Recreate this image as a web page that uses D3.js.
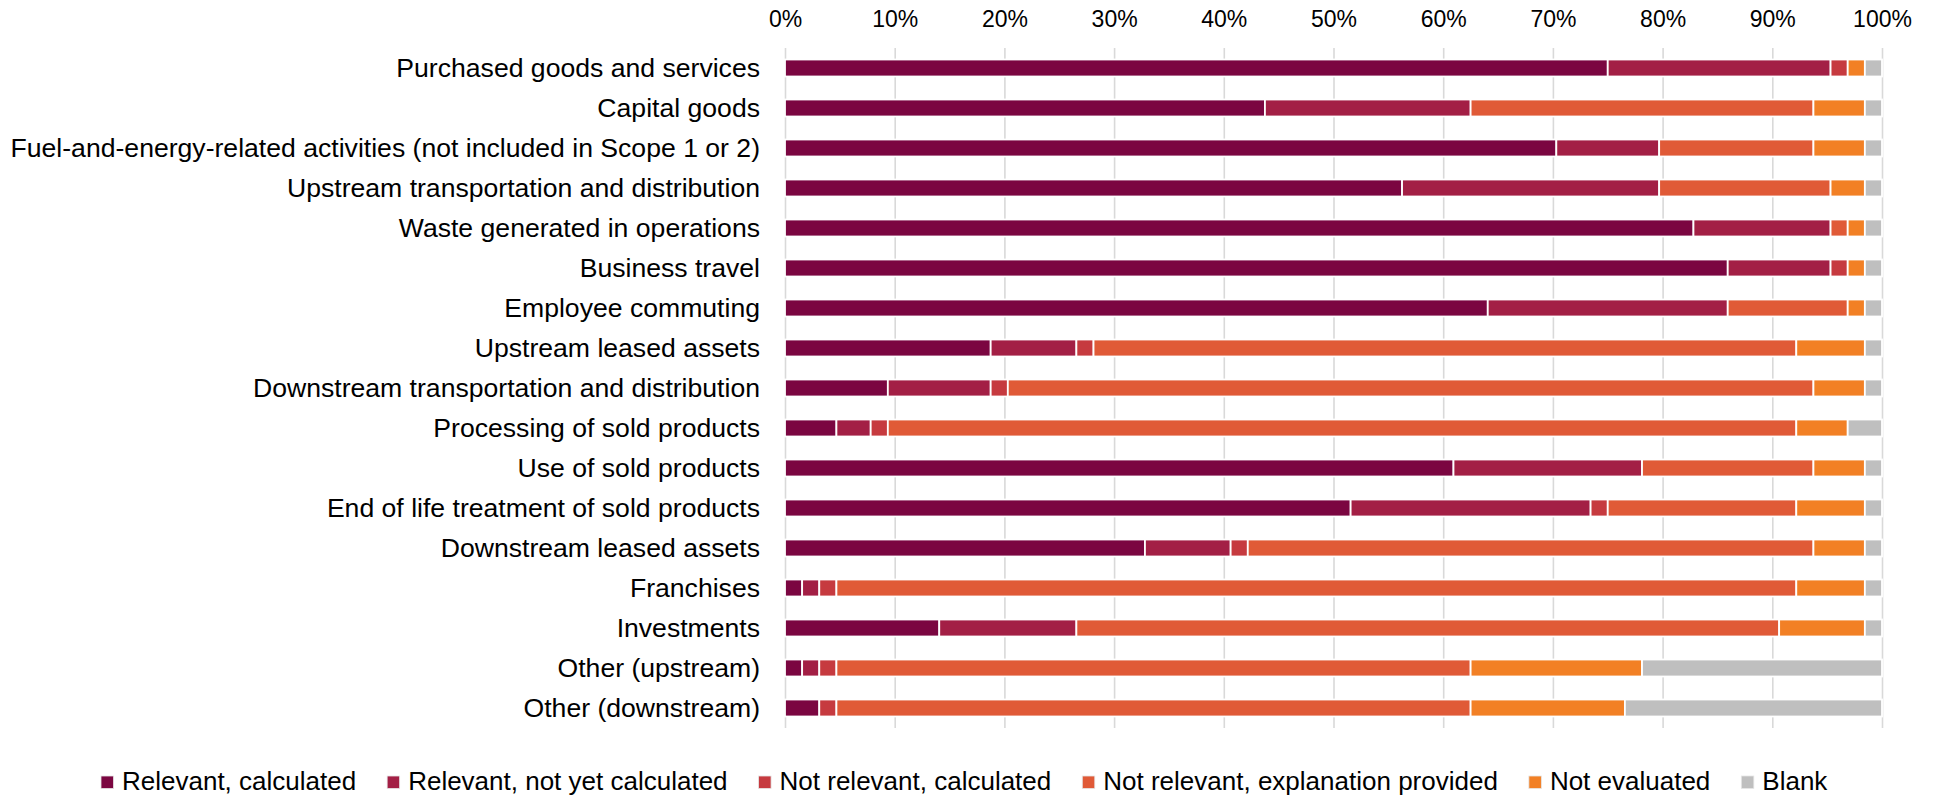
<!DOCTYPE html>
<html><head><meta charset="utf-8">
<script src="https://cdn.jsdelivr.net/npm/d3@7"></script>
<style>body{margin:0;background:#fff}svg{display:block;font-family:"Liberation Sans",Arial,sans-serif}</style>
</head><body>
<svg id="chart" width="1939" height="797"></svg>
<script>
const categories = [
  "Purchased goods and services",
  "Capital goods",
  "Fuel-and-energy-related activities (not included in Scope 1 or 2)",
  "Upstream transportation and distribution",
  "Waste generated in operations",
  "Business travel",
  "Employee commuting",
  "Upstream leased assets",
  "Downstream transportation and distribution",
  "Processing of sold products",
  "Use of sold products",
  "End of life treatment of sold products",
  "Downstream leased assets",
  "Franchises",
  "Investments",
  "Other (upstream)",
  "Other (downstream)"
];
const seriesNames = ["Relevant, calculated","Relevant, not yet calculated","Not relevant, calculated","Not relevant, explanation provided","Not evaluated","Blank"];
const seriesColors = ["#7B0641","#A31F45","#C63A3F","#E05A37","#F28025","#BFBFBF"];
// response counts per category (each bar is shown as a share of 100%)
const relevantCalculated     = [48,28,45,36,53,55,41,12, 6, 3,39,33,21, 1, 9, 1, 2];
const relevantNotYet         = [13,12, 6,15, 8, 6,14, 5, 6, 2,11,14, 5, 1, 8, 1, 0];
const notRelevantCalculated  = [ 1, 0, 0, 0, 0, 1, 0, 1, 1, 1, 0, 1, 1, 1, 0, 1, 1];
const notRelevantExplained   = [ 0,20, 9,10, 1, 0, 7,41,47,53,10,11,33,56,41,37,37];
const notEvaluated           = [ 1, 3, 3, 2, 1, 1, 1, 4, 3, 3, 3, 4, 3, 4, 5,10, 9];
const blank                  = [ 1, 1, 1, 1, 1, 1, 1, 1, 1, 2, 1, 1, 1, 1, 1,14,15];
const tickValues = [0,0.1,0.2,0.3,0.4,0.5,0.6,0.7,0.8,0.9,1];
const tickLabels = ["0%","10%","20%","30%","40%","50%","60%","70%","80%","90%","100%"];

const seriesArrays = [relevantCalculated, relevantNotYet, notRelevantCalculated, notRelevantExplained, notEvaluated, blank];
const rows = categories.map((c, i) => {
  const o = {category: c};
  seriesNames.forEach((s, k) => o[s] = seriesArrays[k][i]);
  return o;
});

const svg = d3.select("#chart");
const plotLeft = 785, plotRight = 1882, plotTop = 48, plotBottom = 728;
const x = d3.scaleLinear().domain([0, 1]).range([plotLeft, plotRight]);
const y = d3.scaleBand().domain(categories).range([plotTop, plotBottom]).paddingInner(0.575).paddingOuter(0.2875);
const color = d3.scaleOrdinal().domain(seriesNames).range(seriesColors);

// gridlines + top tick labels
const xAxis = svg.append("g").attr("transform", `translate(0,${plotTop})`)
  .call(d3.axisTop(x).tickValues(tickValues).tickFormat((d, i) => tickLabels[i])
    .tickSize(-(plotBottom - plotTop)).tickPadding(21));
xAxis.select(".domain").remove();
xAxis.selectAll("line").attr("stroke", "#D9D9D9").attr("stroke-width", 1.6);
xAxis.selectAll("text").attr("font-size", 23).attr("fill", "#000")
  .attr("font-family", "'Liberation Sans', Arial, sans-serif");

// category labels
const yAxis = svg.append("g").attr("transform", `translate(${plotLeft},0)`)
  .call(d3.axisLeft(y).tickSize(0).tickPadding(25));
yAxis.select(".domain").remove();
yAxis.selectAll("text").attr("font-size", 26.6).attr("fill", "#000")
  .attr("font-family", "'Liberation Sans', Arial, sans-serif");

// stacked bars
const stacked = d3.stack().keys(seriesNames).offset(d3.stackOffsetExpand)(rows);
svg.append("g").selectAll("g").data(stacked).join("g")
  .attr("fill", d => color(d.key))
  .selectAll("rect").data(d => d.filter(s => s[1] - s[0] > 0)).join("rect")
  .attr("x", d => x(d[0]))
  .attr("width", d => x(d[1]) - x(d[0]))
  .attr("y", d => y(d.data.category))
  .attr("height", y.bandwidth())
  .attr("stroke", "#fff").attr("stroke-width", 1.8);

// legend
const legend = svg.append("g").attr("font-family", "'Liberation Sans', Arial, sans-serif");
let lx = 101;
const legendGap = 31;
seriesNames.forEach((s, i) => {
  const g = legend.append("g");
  g.append("rect").attr("x", lx).attr("y", 776).attr("width", 12.5).attr("height", 12.5)
    .attr("fill", color(s)).attr("stroke", "#E6E6E6").attr("stroke-width", 0.8);
  const t = g.append("text").attr("x", lx + 21).attr("y", 789.5).attr("font-size", 26).attr("fill", "#000").text(s);
  lx += 21 + t.node().getComputedTextLength() + legendGap;
});
</script>
</body></html>
